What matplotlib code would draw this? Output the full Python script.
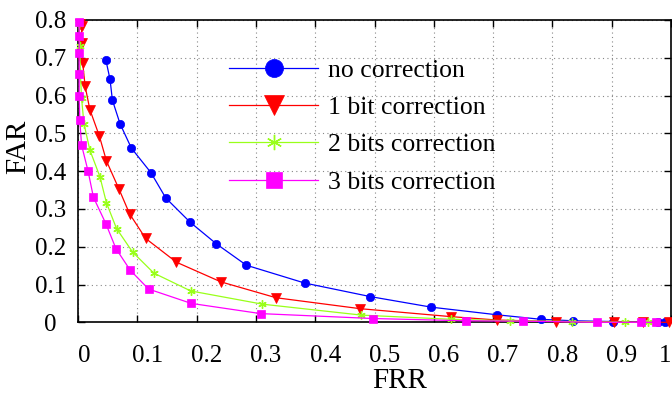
import matplotlib
matplotlib.use("Agg")
import matplotlib.pyplot as plt
from matplotlib.lines import Line2D
from matplotlib.transforms import ScaledTranslation

plt.rcParams['font.family'] = ['Liberation Serif', 'DejaVu Serif']
plt.rcParams['mathtext.fontset'] = 'stix'

# ---- data (FRR, FAR) ----
frr_none = [0.047, 0.054, 0.058, 0.071, 0.090, 0.123, 0.148, 0.189, 0.233, 0.284,
            0.382, 0.493, 0.596, 0.706, 0.780, 0.835, 0.902, 0.978, 0.990]
far_none = [0.694, 0.643, 0.588, 0.525, 0.461, 0.396, 0.329, 0.265, 0.208, 0.151,
            0.104, 0.068, 0.040, 0.020, 0.008, 0.004, 0.002, 0.001, 0.0]

frr_1 = [0.004, 0.006, 0.006, 0.008, 0.012, 0.020, 0.036, 0.048, 0.069, 0.087,
         0.114, 0.166, 0.241, 0.334, 0.476, 0.629, 0.707, 0.806, 0.904, 0.953, 0.997]
far_1 = [0.790, 0.784, 0.738, 0.685, 0.625, 0.563, 0.493, 0.427, 0.353, 0.287,
         0.222, 0.159, 0.107, 0.065, 0.036, 0.015, 0.006, 0.002, 0.001, 0.0, 0.0]

frr_2 = [0.002, 0.003, 0.004, 0.006, 0.010, 0.020, 0.037, 0.048, 0.065, 0.092,
         0.128, 0.190, 0.311, 0.478, 0.629, 0.728, 0.833, 0.922, 0.962]
far_2 = [0.790, 0.730, 0.660, 0.593, 0.526, 0.456, 0.385, 0.316, 0.248, 0.186,
         0.130, 0.083, 0.048, 0.019, 0.008, 0.004, 0.002, 0.0, 0.0]

frr_3 = [0.002, 0.002, 0.002, 0.002, 0.002, 0.003, 0.006, 0.017, 0.026, 0.047,
         0.064, 0.088, 0.119, 0.191, 0.308, 0.497, 0.654, 0.751, 0.876, 0.949, 0.975]
far_3 = [0.795, 0.757, 0.712, 0.656, 0.599, 0.535, 0.469, 0.400, 0.331, 0.261,
         0.195, 0.138, 0.088, 0.050, 0.023, 0.010, 0.004, 0.003, 0.0, 0.0, 0.0]

labels = ['no correction', '1 bit correction', '2 bits correction', '3 bits correction']
colors = ['#0000ff', '#ff0000', '#99ff1a', '#ff00ff']
markers = ['o', 'v', (6, 2, 0), 's']
msizes = [6, 6.5, 6, 5.5]
leg_msizes = [13, 14, 11, 11]

xticks = [0, 0.1, 0.2, 0.3, 0.4, 0.5, 0.6, 0.7, 0.8, 0.9, 1]
xticklabels = ['0', '0.1', '0.2', '0.3', '0.4', '0.5', '0.6', '0.7', '0.8', '0.9', '1']
yticks = [0, 0.1, 0.2, 0.3, 0.4, 0.5, 0.6, 0.7, 0.8]
yticklabels = ['0', '0.1', '0.2', '0.3', '0.4', '0.5', '0.6', '0.7', '0.8']

fig = plt.figure(figsize=(6.72, 3.94), dpi=100)
ax = fig.add_axes([78/672, 1 - 322.3/394, 593/672, 302.3/394])

series = [(frr_none, far_none), (frr_1, far_1), (frr_2, far_2), (frr_3, far_3)]
for (xs, ys), c, m, ms in zip(series, colors, markers, msizes):
    ax.plot(xs, ys, color=c, lw=0.9, marker=m, ms=ms, mfc=c, mec=c,
            mew=1.0 if m == (6, 2, 0) else 0.5, clip_on=False, zorder=3)

ax.set_xlim(0, 1)
ax.set_ylim(0, 0.8)
ax.set_xticks(xticks)
ax.set_xticklabels(xticklabels)
ax.set_yticks(yticks)
ax.set_yticklabels(yticklabels)

ax.grid(True, color='#888888', linestyle=(0, (1, 3)), linewidth=0.8)
ax.tick_params(direction='in', length=5, width=1.0, top=True, right=True,
               labelsize=18)
ax.tick_params(axis='x', pad=16)
ax.tick_params(axis='y', pad=20)
for lab in ax.get_yticklabels():
    lab.set_horizontalalignment('center')

xlabs = ax.get_xticklabels()
for i, lab in enumerate(xlabs):
    if i == 0:
        dx = 6
    elif i == len(xlabs) - 1:
        dx = 0
        lab.set_horizontalalignment('right')
    else:
        dx = 10
    lab.set_transform(lab.get_transform() + ScaledTranslation(dx / 100, 0, fig.dpi_scale_trans))

for s in ax.spines.values():
    s.set_linewidth(1.2)

ax.set_xlabel('FRR', fontsize=21)
ax.set_ylabel('FAR', fontsize=21)
ax.xaxis.set_label_coords(0.543, -0.15)
ax.yaxis.set_label_coords(-0.079, 0.58)

handles = [Line2D([], [], color=c, lw=0.9, marker=m, ms=lms, mfc=c, mec=c,
                  mew=1.0 if m == (6, 2, 0) else 0.5)
           for c, m, lms in zip(colors, markers, leg_msizes)]
ax.legend(handles, labels, loc='upper left', bbox_to_anchor=(0.255, 0.872),
          frameon=False, fontsize=18.5, handlelength=3.45, handletextpad=0.4,
          labelspacing=0.56, borderpad=0, borderaxespad=0)

fig.savefig('out.png', dpi=100)
